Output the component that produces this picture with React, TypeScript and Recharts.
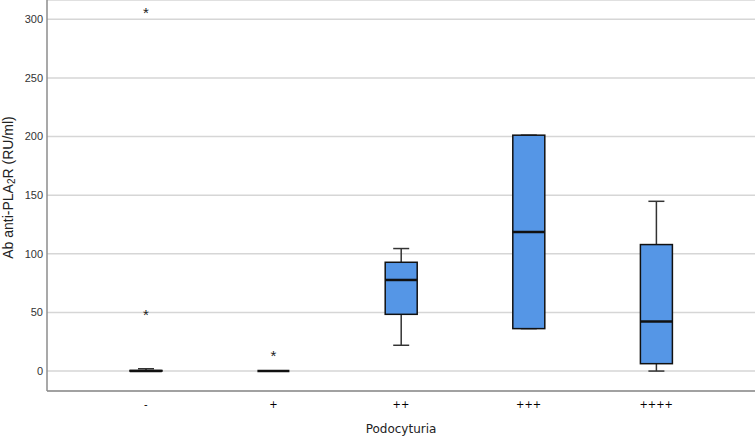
import React from "react";
import {
  ComposedChart,
  Bar,
  Scatter,
  XAxis,
  YAxis,
  CartesianGrid,
  Label,
} from "recharts";

const categories = ["-", "+", "++", "+++", "++++"];
const whiskerLow = [0, 0, 22, 36.2, 0];
const q1 = [0, 0, 48.4, 36.2, 6.3];
const median = [0, 0, 77.7, 118.6, 42.2];
const q3 = [0.5, 0, 92.8, 201.2, 107.9];
const whiskerHigh = [2, 0, 104.5, 201.2, 144.8];

const outlierCats = ["-", "-", "+"];
const outlierValues = [49, 307, 14];

const yTicks = [0, 50, 100, 150, 200, 250, 300];

const rows = categories.map((cat, i) => ({
  cat,
  box: [q1[i], q3[i]],
  upper: [q3[i], whiskerHigh[i]],
  lower: [whiskerLow[i], q1[i]],
  median: median[i],
}));

const outliers = outlierCats.map((c, i) => ({
  x: categories.indexOf(c),
  y: outlierValues[i],
}));

const BOX_FILL = "#5596e6";
const DARK = "#111";
const ARIAL = "'Liberation Sans', Arial, sans-serif";
const VERDANA = "'DejaVu Sans', Verdana, sans-serif";

const norm = (p: any) => {
  const h = Number(p.height) || 0;
  const top = h < 0 ? p.y + h : p.y;
  return { x: p.x, w: p.width, top, h: Math.abs(h) };
};

const BoxShape = (p: any) => {
  const { x, w, top, h } = norm(p);
  return (
    <rect
      x={x}
      y={top}
      width={w}
      height={h}
      fill={BOX_FILL}
      stroke={DARK}
      strokeWidth={1.5}
    />
  );
};

const UpperWhisker = (p: any) => {
  const { x, w, top, h } = norm(p);
  const cx = x + w / 2;
  return (
    <g stroke="#333" strokeWidth={1.5}>
      <line x1={cx} x2={cx} y1={top} y2={top + h} />
      <line x1={x} x2={x + w} y1={top} y2={top} />
    </g>
  );
};

const LowerWhisker = (p: any) => {
  const { x, w, top, h } = norm(p);
  const cx = x + w / 2;
  return (
    <g stroke="#333" strokeWidth={1.5}>
      <line x1={cx} x2={cx} y1={top} y2={top + h} />
      <line x1={x} x2={x + w} y1={top + h} y2={top + h} />
    </g>
  );
};

const MedianShape = (p: any) => {
  const { cx, cy } = p;
  return (
    <line
      x1={cx - 16}
      x2={cx + 16}
      y1={cy}
      y2={cy}
      stroke={DARK}
      strokeWidth={2.5}
    />
  );
};

const StarShape = (p: any) => {
  const { cx, cy } = p;
  return (
    <text
      x={cx}
      y={cy + 6.5}
      textAnchor="middle"
      fontSize={15}
      fontFamily={ARIAL}
      fill="#222"
    >
      *
    </text>
  );
};

const YLabel = (props: any) => {
  const vb = props.viewBox || { x: 0, y: 0, width: 47, height: 391 };
  const x = vb.x + 12.5;
  const y = vb.y + vb.height / 2 - 8;
  return (
    <text
      x={x}
      y={y}
      transform={`rotate(-90 ${x} ${y})`}
      textAnchor="middle"
      fontSize={14}
      fontFamily={ARIAL}
      fill="#222"
    >
      Ab anti-PLA
      <tspan fontSize={10} dy={2}>
        2
      </tspan>
      <tspan dy={-2}>R (RU/ml)</tspan>
    </text>
  );
};

const PAD = { left: 35, right: 35 };

export default function App() {
  return (
    <div>
      <style>{`body{margin:0}`}</style>
      <ComposedChart
        width={755}
        height={438}
        data={rows}
        margin={{ top: 0, right: 0, bottom: 0, left: 0 }}
      >
        <CartesianGrid
          xAxisId="main"
          horizontal
          vertical={false}
          stroke="#d6d6d6"
          strokeWidth={1.5}
        />
        <XAxis
          xAxisId="main"
          dataKey="cat"
          type="category"
          padding={PAD}
          height={47}
          tickLine={false}
          tickSize={6}
          tickMargin={4}
          axisLine={{ stroke: "#8c8c8c", strokeWidth: 1.5 }}
          tick={{
            fontSize: 10,
            fontFamily: VERDANA,
            fill: "#000",
          }}
        >
          <Label
            value="Podocyturia"
            position="insideBottom"
            offset={5}
            style={{
              fontSize: 12,
              fontFamily: VERDANA,
              fill: "#222",
            }}
          />
        </XAxis>
        <XAxis xAxisId="wh" dataKey="cat" type="category" padding={PAD} hide />
        <XAxis xAxisId="wl" dataKey="cat" type="category" padding={PAD} hide />
        <XAxis
          xAxisId="num"
          dataKey="x"
          type="number"
          domain={[-0.7743, 4.7743]}
          allowDataOverflow
          hide
        />
        <YAxis
          type="number"
          domain={[-17, 316.5]}
          allowDataOverflow
          ticks={yTicks}
          width={47}
          tickLine={false}
          tickSize={4}
          tickMargin={0}
          axisLine={{ stroke: "#8c8c8c", strokeWidth: 1.5 }}
          tick={{
            fontSize: 11,
            fontFamily: ARIAL,
            fill: "#333",
          }}
        >
          <Label content={<YLabel />} />
        </YAxis>
        <Bar
          xAxisId="wh"
          dataKey="upper"
          barSize={16}
          shape={UpperWhisker}
          isAnimationActive={false}
        />
        <Bar
          xAxisId="wl"
          dataKey="lower"
          barSize={16}
          shape={LowerWhisker}
          isAnimationActive={false}
        />
        <Bar
          xAxisId="main"
          dataKey="box"
          barSize={32}
          shape={BoxShape}
          isAnimationActive={false}
        />
        <Scatter
          xAxisId="main"
          dataKey="median"
          shape={MedianShape}
          isAnimationActive={false}
        />
        <Scatter
          xAxisId="num"
          data={outliers}
          dataKey="y"
          shape={StarShape}
          isAnimationActive={false}
        />
      </ComposedChart>
    </div>
  );
}
